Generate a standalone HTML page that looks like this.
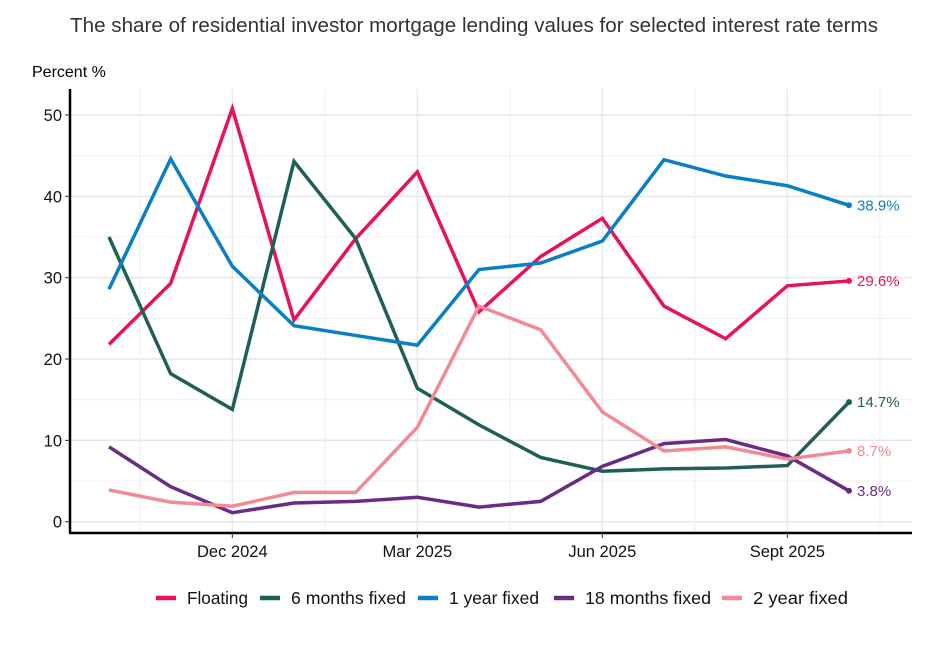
<!DOCTYPE html>
<html><head><meta charset="utf-8"><style>
body{margin:0;background:#fff;width:950px;height:641px;overflow:hidden;font-family:"Liberation Sans",sans-serif}
</style></head><body>
<svg id="chart" width="950" height="641" xmlns="http://www.w3.org/2000/svg">
<text x="474" y="32" text-anchor="middle" font-size="20.6" fill="#333" font-family="Liberation Sans, sans-serif" textLength="808" lengthAdjust="spacingAndGlyphs">The share of residential investor mortgage lending values for selected interest rate terms</text>
<text x="32" y="77" font-size="16" fill="#000">Percent %</text>
<g id="grid"></g><g id="lines"></g><g id="axes"></g><g id="legend"></g>
</svg>
<script>
const months=["Oct 2024","Nov 2024","Dec 2024","Jan 2025","Feb 2025","Mar 2025","Apr 2025","May 2025","Jun 2025","Jul 2025","Aug 2025","Sep 2025","Oct 2025"];
const seriesNames=["Floating","6 months fixed","1 year fixed","18 months fixed","2 year fixed"];
const colors=["#E8125C","#1F5F58","#0A7FC4","#6A2A86","#F28A96"];
const floating=[21.8,29.3,50.8,24.8,34.8,43.0,25.8,32.6,37.3,26.5,22.5,29.0,29.6];
const sixMonths=[35.0,18.2,13.8,44.3,34.8,16.4,11.9,7.9,6.2,6.5,6.6,6.9,14.7];
const oneYear=[28.6,44.6,31.4,24.1,22.9,21.7,31.0,31.8,34.5,44.5,42.5,41.3,38.9];
const eighteenMonths=[9.2,4.3,1.1,2.3,2.5,3.0,1.8,2.5,6.8,9.6,10.1,8.1,3.8];
const twoYear=[3.9,2.4,1.9,3.6,3.6,11.6,26.5,23.6,13.5,8.7,9.2,7.7,8.7];
const yTicks=[0,10,20,30,40,50];
const xTickIdx=[2,5,8,11];
const xTickLabels=["Dec 2024","Mar 2025","Jun 2025","Sept 2025"];
const allSeries=[floating,sixMonths,oneYear,eighteenMonths,twoYear];
const NS="http://www.w3.org/2000/svg";
const L=70,R=912,T=89,B=533;
const x=i=>109+i*(849-109)/12;
const y=v=>521.7-v*(521.7-115)/50;
function mk(tag,attrs,parent){const e=document.createElementNS(NS,tag);for(const k in attrs)e.setAttribute(k,attrs[k]);document.getElementById(parent).appendChild(e);return e;}
for(let v=0;v<=50;v+=5){const g=mk('line',{x1:L,x2:R,y1:y(v),y2:y(v),stroke:v%10?'#f0f0f0':'#e6e6e6','stroke-width':v%10?1:1.5},'grid');

}
for(let k=0.5;k<=12.5;k+=1.5){const g=mk('line',{x1:x(k),x2:x(k),y1:T,y2:B,stroke:(k-0.5)%3===0?'#f0f0f0':'#e6e6e6','stroke-width':1.2},'grid');

}
allSeries.forEach((s,si)=>{
const p=mk('polyline',{points:s.map((v,i)=>x(i)+','+y(v)).join(' '),fill:'none',stroke:colors[si],'stroke-width':3.5,'stroke-linejoin':'miter'},'lines');


const last=s[s.length-1];
const c=mk('circle',{cx:x(s.length-1),cy:y(last),r:3,fill:colors[si]},'lines');


const t=mk('text',{x:x(s.length-1)+8,y:y(last)+5,'font-size':15,fill:colors[si]},'lines');
t.textContent=last.toFixed(1)+'%';


});
let a=mk('line',{x1:L,x2:L,y1:T,y2:B,stroke:'#000','stroke-width':2.5},'axes');


a=mk('line',{x1:L-1,x2:R,y1:B,y2:B,stroke:'#000','stroke-width':2.5},'axes');


yTicks.forEach(v=>{const tk=mk('line',{x1:L-5,x2:L,y1:y(v),y2:y(v),stroke:'#333','stroke-width':1},'axes');


const t=mk('text',{x:L-8,y:y(v)+6,'text-anchor':'end','font-size':16.5,fill:'#111'},'axes');t.textContent=v;

});
xTickIdx.forEach((i,k)=>{const tk=mk('line',{x1:x(i),x2:x(i),y1:B,y2:B+5,stroke:'#333','stroke-width':1},'axes');


const t=mk('text',{x:x(i),y:557,'text-anchor':'middle','font-size':16.5,fill:'#111'},'axes');t.textContent=xTickLabels[k];

});
const lx=[156,260,418,554,722];
const lw=[61,115,90,126,95];
seriesNames.forEach((n,i)=>{const l=mk('line',{x1:lx[i],x2:lx[i]+20,y1:598,y2:598,stroke:colors[i],'stroke-width':4.5},'legend');


const t=mk('text',{x:lx[i]+31,y:604,'font-size':17.5,fill:'#111',textLength:lw[i],lengthAdjust:'spacingAndGlyphs'},'legend');t.textContent=n;

});
</script>
</body></html>
